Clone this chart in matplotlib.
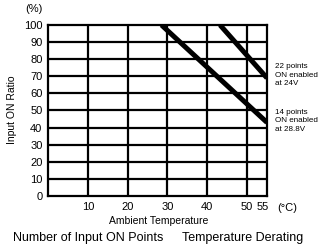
import matplotlib
matplotlib.use("Agg")
import matplotlib.pyplot as plt
from matplotlib.transforms import ScaledTranslation

plt.rcParams['font.family'] = ['Liberation Sans', 'DejaVu Sans']

# data
temp_14 = [28.5, 55]
ratio_14 = [100, 43]
temp_22 = [43.2, 55]
ratio_22 = [100, 69]
x_ticks = [10, 20, 30, 40, 50, 55]
y_ticks = [0, 10, 20, 30, 40, 50, 60, 70, 80, 90, 100]
label_22 = "22 points\nON enabled\nat 24V"
label_14 = "14 points\nON enabled\nat 28.8V"

W, H = 319, 248
fig = plt.figure(figsize=(W / 100, H / 100), dpi=100)
ax = fig.add_axes([48 / W, 1 - 196 / H, (267 - 48) / W, (196 - 25) / H])
ax.set_xlim(0, 55)
ax.set_ylim(0, 100)

for x in [10, 20, 30, 40, 50]:
    ax.axvline(x, color='black', lw=1.6, zorder=1)
for y in y_ticks[1:-1]:
    ax.axhline(y, color='black', lw=1.6, zorder=1)
for s in ax.spines.values():
    s.set_linewidth(1.6)

ax.plot(temp_14, ratio_14, color='black', lw=3.6, solid_capstyle='butt', zorder=3, clip_on=True)
ax.plot(temp_22, ratio_22, color='black', lw=3.6, solid_capstyle='butt', zorder=3, clip_on=True)

ax.set_xticks(x_ticks)
ax.set_xticklabels([str(v) for v in x_ticks])
ax.set_yticks(y_ticks)
ax.set_yticklabels([str(v) for v in y_ticks])
ax.tick_params(length=0, labelsize=8, pad=4)

# nudge the "55" label slightly left as in the reference
last = ax.get_xticklabels()[-1]
last.set_transform(last.get_transform() + ScaledTranslation(-4 / 100, 0, fig.dpi_scale_trans))

fig.text(34 / W, 1 - 9 / H, "(%)", fontsize=8, ha='center', va='center')
fig.text(12 / W, 1 - 110 / H, "Input ON Ratio", fontsize=7.5, rotation=90, ha='center', va='center')
fig.text(287 / W, 1 - 208 / H, "(°C)", fontsize=8, ha='center', va='center')
fig.text(159 / W, 1 - 221 / H, "Ambient Temperature", fontsize=7.5, ha='center', va='center')
fig.text(13 / W, 1 - 238 / H, "Number of Input ON Points", fontsize=9, ha='left', va='center')
fig.text(182 / W, 1 - 238 / H, "Temperature Derating", fontsize=9, ha='left', va='center')
fig.text(275 / W, 1 - 75 / H, label_22, fontsize=5.8, ha='left', va='center', linespacing=1.35)
fig.text(275 / W, 1 - 121 / H, label_14, fontsize=5.8, ha='left', va='center', linespacing=1.35)

fig.savefig("out.png", dpi=100)
